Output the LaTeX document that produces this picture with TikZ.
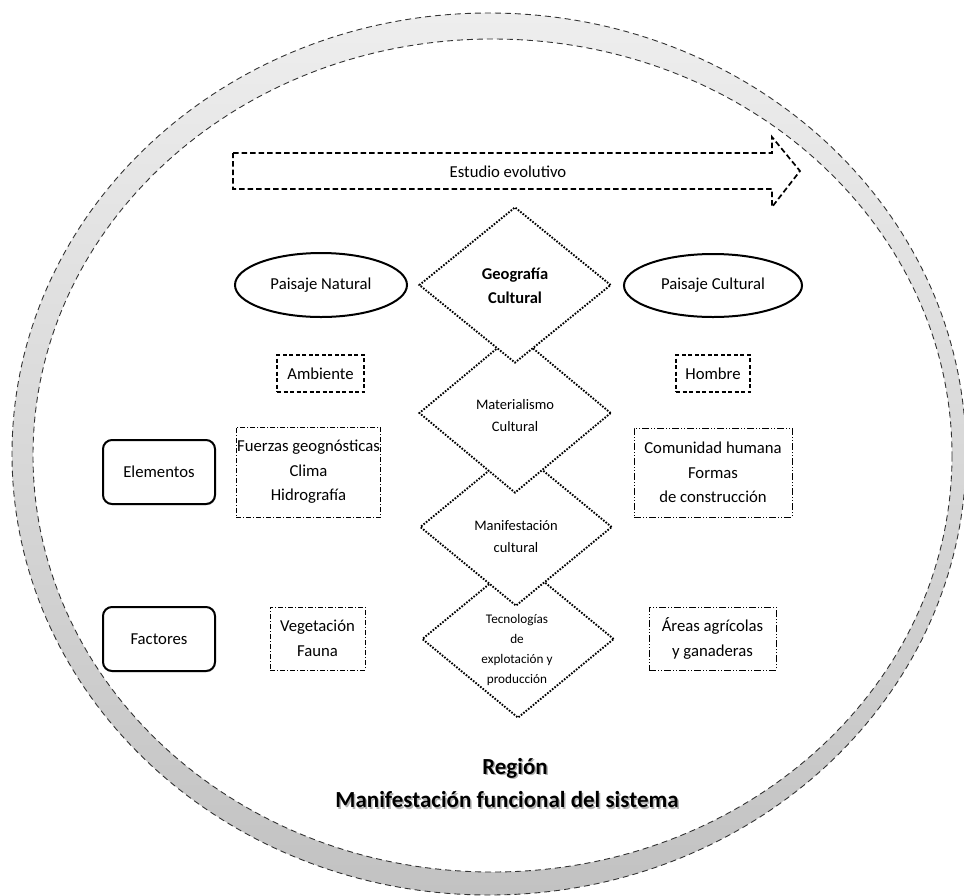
\documentclass[tikz,border=0pt]{standalone}
\usepackage{fontspec}
\setmainfont{Carlito}
\usetikzlibrary{shapes.geometric,shadows}
\definecolor{ringtop}{HTML}{EEEEEE}
\definecolor{ringbot}{HTML}{C2C2C2}
\definecolor{ringedge}{HTML}{333333}
\begin{document}
\begin{tikzpicture}[x=1pt,y=-1pt,
  ringline/.style={draw=ringedge, line width=0.9, dash pattern=on 6 off 4},
  arrowline/.style={draw=black, line width=1.7, dash pattern=on 5.5 off 3},
  txt/.style={font=\fontsize{16.7}{24.5}\selectfont, align=center, inner sep=1},
  pais/.style={ellipse, draw, line width=2, inner sep=0, txt},
  rbox/.style={draw, line width=2, rounded corners=9, minimum width=112, minimum height=64, fill=white,
    drop shadow={shadow xshift=0.8pt, shadow yshift=-1.2pt, opacity=0.45}, txt},
  dbox/.style={draw, line width=1.3, dash pattern=on 4 off 2.5, txt},
  ddbox/.style={draw, line width=1, dash pattern=on 5 off 2 on 1 off 2, txt},
  dddbox/.style={draw, line width=1, dash pattern=on 7 off 2 on 1 off 2 on 1 off 2, txt},
  dia/.style={diamond, draw, fill=white, line width=1.9, dash pattern=on 1.6 off 1.5, minimum width=192, minimum height=158, inner sep=0},
  dtxt/.style={font=\fontsize{14.5}{22}\selectfont, align=center, inner sep=0},
  dtxtb/.style={font=\fontsize{13.2}{20}\selectfont, align=center, inner sep=0},
  regtxt/.style={font=\fontsize{23}{28}\selectfont\bfseries, align=center, inner sep=0},
  shadowtxt/.style={regtxt, text=black!30}
]
\useasboundingbox (0,0) rectangle (964,895);
\fill[white] (0,0) rectangle (964,895);
% ring
\shade[top color=ringtop, bottom color=ringbot, even odd rule]
  (489,454) ellipse [x radius=477, y radius=441]
  (492.5,455.5) ellipse [x radius=459.5, y radius=416.5];
\draw[ringline] (489,454) ellipse [x radius=477, y radius=441];
\draw[ringline] (492.5,455.5) ellipse [x radius=459.5, y radius=416.5];
% arrow
\draw[arrowline] (233,153) -- (772,153) -- (772,137) -- (800,171) -- (772,207) -- (772,189) -- (233,189) -- cycle;
\node[txt] (estudio) at (508,172) {Estudio evolutivo};
% paisajes
\node[pais, minimum width=172, minimum height=64] (pnat) at (321,285) {Paisaje Natural};
\node[pais, minimum width=178, minimum height=63] (pcul) at (713,285.5) {Paisaje Cultural};
% diamonds (lower ones first)
\node[dia] (d4) at (518,639) {};
\node[dia] (d3) at (516,527) {};
\node[dia, minimum height=160] (d2) at (515,413) {};
\node[dia, minimum height=156] (d1) at (515,285) {};
\node[txt, font=\fontsize{16.5}{24}\selectfont\bfseries] (t1) at (515,286) {Geografía\\Cultural};
\node[dtxt] (t2) at (515,416) {Materialismo\\Cultural};
\node[dtxt] (t3) at (516,537) {Manifestación\\cultural};
\node[dtxtb] (t4) at (517,650) {Tecnologías\\de\\explotación y\\producción};
% boxes
\node[dbox, minimum width=87, minimum height=37] (amb) at (320.5,373.5) {Ambiente};
\node[dbox, minimum width=74, minimum height=37] (hom) at (713,373.5) {Hombre};
\node[ddbox, minimum width=138, minimum height=90] (fue) at (308.5,472) {Fuerzas geognósticas\\Clima\\Hidrografía};
\node[dddbox, minimum width=158, minimum height=89] (com) at (713,472.5) {Comunidad humana\\Formas\\de construcción};
\node[ddbox, minimum width=95, minimum height=63] (veg) at (317.5,638.5) {Vegetación\\Fauna};
\node[dddbox, minimum width=127, minimum height=63] (are) at (712.5,638.5) {Áreas agrícolas\\y ganaderas};
\node[rbox] (ele) at (159,472) {Elementos};
\node[rbox] (fac) at (159,639) {Factores};
% region
\node[shadowtxt] (regs) at (516.5,769.5) {Región};
\node[shadowtxt] (mans) at (508.5,801.5) {Manifestación funcional del sistema};
\node[regtxt] (reg) at (515,768) {Región};
\node[regtxt] (man) at (507,800) {Manifestación funcional del sistema};
\end{tikzpicture}
\end{document}
